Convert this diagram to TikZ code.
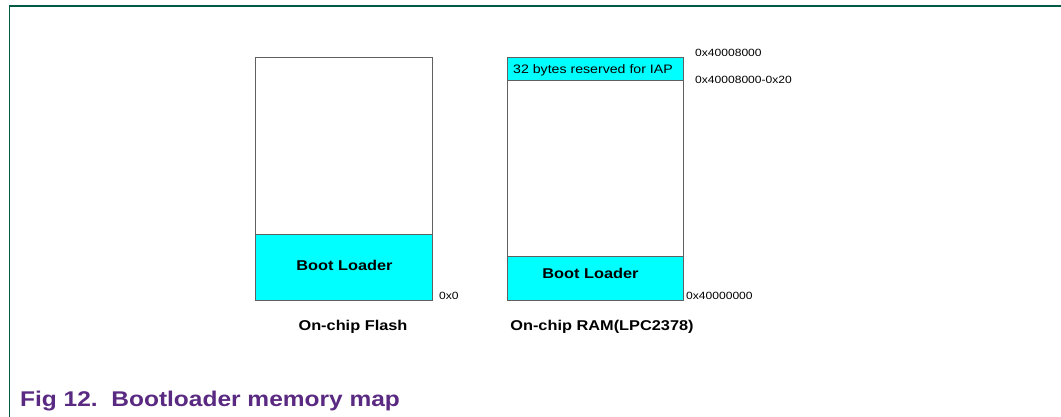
\documentclass[tikz,border=0pt]{standalone}
\usepackage{fontspec}
\setmainfont[FakeStretch=1.15]{Liberation Sans}
\definecolor{frameg}{HTML}{005A46}
\definecolor{boxline}{HTML}{606060}
\definecolor{aqua}{HTML}{00FFFF}
\definecolor{capc}{HTML}{5A2A82}
\begin{document}
\begin{tikzpicture}[x=1pt,y=-1pt,
  region/.style={draw=boxline,line width=1pt,inner sep=0pt,anchor=north west},
  small/.style={font=\fontsize{10.5}{12}\selectfont,inner sep=0pt,anchor=base west},
  bold/.style={font=\fontsize{14.2}{16}\selectfont\bfseries,inner sep=0pt,anchor=base}]
\useasboundingbox (0,0) rectangle (1061,417);
\fill[white] (0,0) rectangle (1061,417);
% frame
\coordinate (fa) at (9.5,417);
\coordinate (fb) at (9.5,6);
\coordinate (fc) at (1061,6);
\draw[frameg,line width=1.2pt] (fa) -- (fb) -- (fc);
% flash
\node[region,minimum width=177pt,minimum height=177pt] (fup) at (255,57) {};
\node[region,fill=aqua,minimum width=177pt,minimum height=66pt] (fboot) at (255,234) {};
\node[bold] (fbl) at (344.5,270) {Boot Loader};
% ram
\node[region,fill=aqua,minimum width=176pt,minimum height=23pt] (riap) at (507,57) {};
\node[region,minimum width=176pt,minimum height=176pt] (rmid) at (507,80) {};
\node[region,fill=aqua,minimum width=176pt,minimum height=44pt] (rboot) at (507,256) {};
\node[font=\fontsize{12.3}{14}\selectfont,inner sep=0pt,anchor=base west] (iapl) at (513,73.5) {32 bytes reserved for IAP};
\node[bold] (rbl) at (590.5,278) {Boot Loader};
% addresses
\node[small] (a1) at (695,57) {0x40008000};
\node[small] (a2) at (695,84) {0x40008000-0x20};
\node[small] (a3) at (439,299) {0x0};
\node[small] (a4) at (686,299) {0x40000000};
% titles
\node[bold] (tf) at (353,330) {On-chip Flash};
\node[bold] (tr) at (602,330) {On-chip RAM(LPC2378)};
% caption
\node[font=\fontsize{21.3}{24}\selectfont\bfseries,text=capc,inner sep=0pt,anchor=base west] (cap) at (20,406) {Fig 12.\ \ Bootloader memory map};
\end{tikzpicture}
\end{document}
